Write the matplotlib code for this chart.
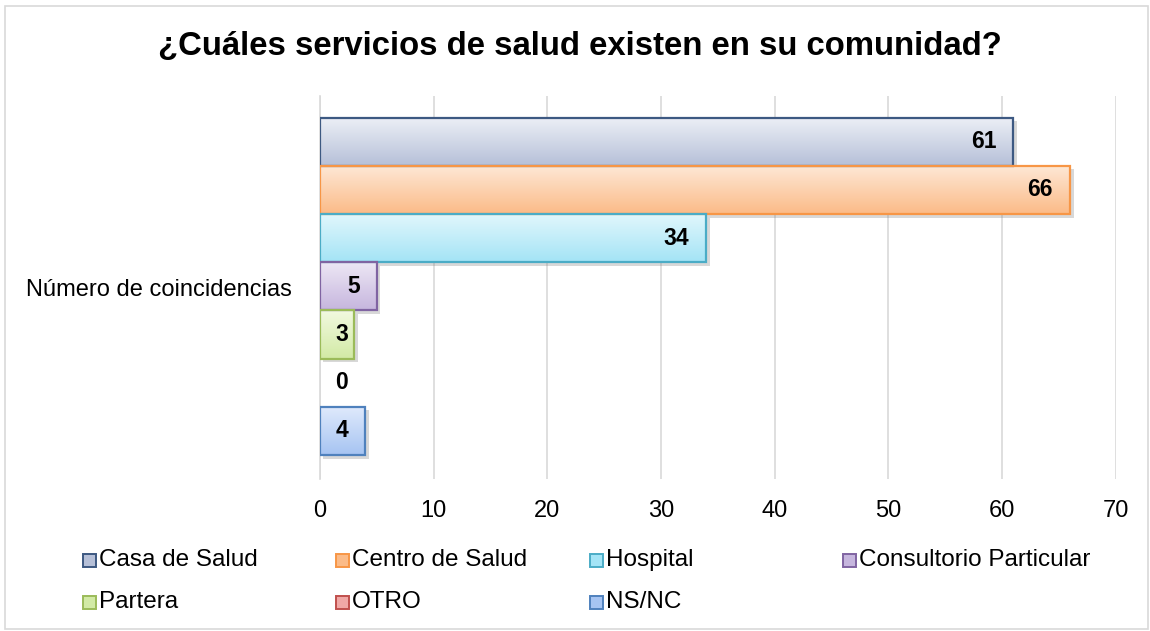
import matplotlib
matplotlib.use('Agg')
import matplotlib.pyplot as plt
import matplotlib.patheffects as pe
from matplotlib.colors import LinearSegmentedColormap
from matplotlib.patches import Rectangle
import numpy as np

plt.rcParams['font.family'] = ['Liberation Sans', 'DejaVu Sans']

title = "¿Cuáles servicios de salud existen en su comunidad?"
category = "Número de coincidencias"
series = ["Casa de Salud", "Centro de Salud", "Hospital", "Consultorio Particular",
          "Partera", "OTRO", "NS/NC"]
values = [61, 66, 34, 5, 3, 0, 4]
xticks = [0, 10, 20, 30, 40, 50, 60, 70]

# (top, bottom, edge) per series
tops = ["#eceff6", "#fee8d6", "#e2f7fc", "#eee8f5", "#f2f9e0", "#fbe0e0", "#e0eafc"]
bottoms = ["#b6c0d8", "#fbbb88", "#a4e4f6", "#c6b6de", "#d2eaa5", "#f0a8a6", "#a6c4f2"]
edges = ["#3d5982", "#f79646", "#4bacc6", "#8064a2", "#9bbb59", "#c0504d", "#4f81bd"]

fig = plt.figure(figsize=(11.5, 6.31), dpi=100)
fig.patches.append(Rectangle((5 / 1150, 2 / 631), 1143 / 1150, 623 / 631,
                             transform=fig.transFigure, fill=False,
                             edgecolor="#d9d9d9", linewidth=1.2))
ax = fig.add_axes([320 / 1150, 1 - 479 / 631, 795.5 / 1150, 383 / 631])

n = len(values)
h = 48.2 / 383
ypos = [(n - 1) / 2 * h - i * h + 0.003 for i in range(n)]

base = ax.barh(ypos, values, height=h, color="white", edgecolor="none", zorder=2,
               path_effects=[pe.SimplePatchShadow(offset=(2.5, -2.5), shadow_rgbFace="#808080", alpha=0.3),
                             pe.Normal()])
grad = np.linspace(0, 1, 64).reshape(-1, 1)
for i, bar in enumerate(base):
    if values[i] == 0:
        continue
    cmap = LinearSegmentedColormap.from_list("g%d" % i, [tops[i], bottoms[i]])
    x0, y0 = bar.get_x(), bar.get_y()
    im = ax.imshow(grad, cmap=cmap, aspect="auto", zorder=2.5,
                   extent=[x0, x0 + bar.get_width(), y0, y0 + bar.get_height()], origin="upper")
    im.set_clip_path(bar)
widths = [1.6 if v > 0 else 0 for v in values]
ax.barh(ypos, values, height=h, color="none", edgecolor=edges, linewidth=widths, zorder=3)

for y, v in zip(ypos, values):
    ax.text(max(v - 1.5, 2.45), y, str(v), ha="right", va="center",
            fontsize=16.5, fontweight="bold", color="black", zorder=4)

ax.set_xlim(0, 70)
ax.set_ylim(-0.5, 0.5)
ax.set_xticks(xticks)
ax.set_yticks([0])
ax.set_yticklabels([category])
ax.tick_params(axis="x", length=0, pad=15, labelsize=17)
ax.tick_params(axis="y", length=0, pad=20, labelsize=17)
ax.grid(axis="x", color="#d9d9d9", linewidth=1.2, zorder=0)
ax.set_axisbelow(True)
for s in ["top", "right", "bottom"]:
    ax.spines[s].set_visible(False)
ax.spines["left"].set_color("#d9d9d9")
ax.spines["left"].set_linewidth(1.2)

fig.text(580 / 1150, 1 - 47 / 631, title, ha="center", va="center",
         fontsize=23.7, fontweight="bold")

# legend, placed like the original
leg_pos = [(89, 560), (342, 560), (596, 560), (849, 560),
           (89, 602), (342, 602), (596, 602)]
for (px, py), lab, t, b, e in zip(leg_pos, series, tops, bottoms, edges):
    fig.patches.append(Rectangle(((px - 6.5) / 1150, 1 - (py + 6.5) / 631), 13 / 1150, 13 / 631,
                                 transform=fig.transFigure, facecolor=b,
                                 edgecolor=e, linewidth=1.4))
    fig.text((px + 10) / 1150, 1 - py / 631, lab, ha="left", va="center", fontsize=17.5)

fig.savefig("out.png", dpi=100)
